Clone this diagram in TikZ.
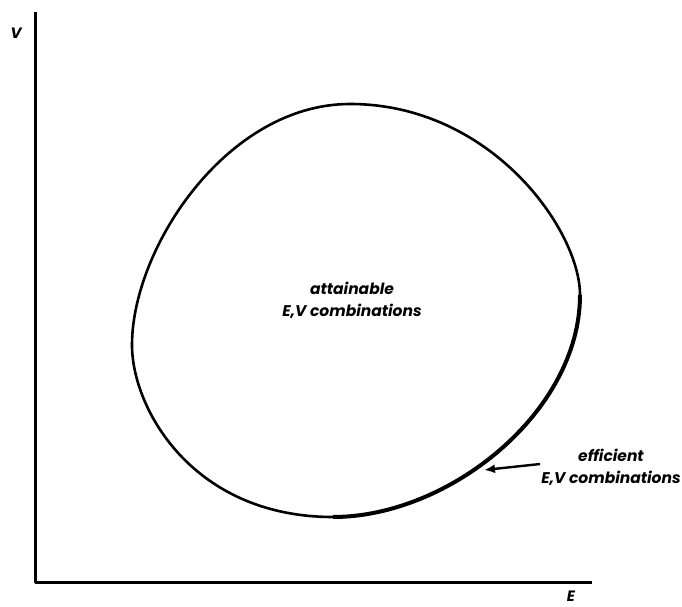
\documentclass[tikz,border=0pt]{standalone}
\usepackage{fontspec}
\setmainfont{Poppins}
\usetikzlibrary{arrows.meta}
\begin{document}
\begin{tikzpicture}[x=1pt, y=-1pt]
    \tikzset{
      axislabel/.style={inner sep=0pt, font=\fontsize{15}{16}\selectfont\bfseries\itshape},
      regionlabel/.style={align=center, inner sep=1pt, font=\fontsize{15.5}{22}\selectfont\bfseries\itshape}
    }
    \useasboundingbox (0,0) rectangle (682,607);

    \coordinate (origin) at (35,582);
    \coordinate (vtop) at (35,12);
    \coordinate (eend) at (592,582);
    \node[axislabel] (vlabel) at (16,33) {V};
    \node[axislabel] (elabel) at (571,596) {E};

    \coordinate (left) at (132,345);
    \coordinate (top) at (350,104);
    \coordinate (right) at (580,295);
    \coordinate (bottom) at (333,517);

    \node[regionlabel] (attainable) at (352,300) {attainable\\E,V combinations};
    \node[regionlabel] (efficient) at (611,467) {efficient\\E,V combinations};
    \coordinate (tip) at (484,470);

    \draw[line width=3pt, line join=round] (vtop) -- (origin) -- (eend);

    \draw[line width=2.6pt] (bottom) .. controls (449,517) and (580,412) .. (right)
      .. controls (580,230) and (491,104) .. (top)
      .. controls (227,104) and (132,248) .. (left)
      .. controls (132,409) and (193,517) .. (bottom) -- cycle;
    \draw[line width=4pt] (bottom) .. controls (449,517) and (580,412) .. (right);

    \draw[-{Latex[length=11pt, width=9pt]}, line width=2.4pt] ([yshift=3pt]efficient.west) -- (tip);
  \end{tikzpicture}
\end{document}
